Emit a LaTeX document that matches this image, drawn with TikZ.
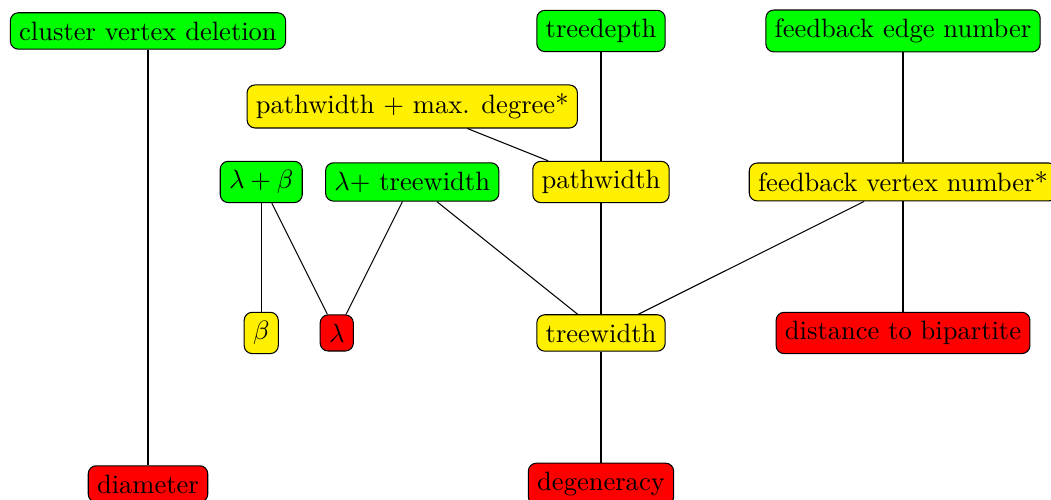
\documentclass[tikz,border=0pt]{standalone}
\definecolor{cgreen}{RGB}{0,255,0}
\definecolor{cyellow}{RGB}{255,240,0}
\definecolor{cred}{RGB}{255,0,0}
\begin{document}
\begin{tikzpicture}[x=2cm,y=2cm,
  par/.style={draw, rounded corners=3pt, inner sep=3.33pt},
  good/.style={par, fill=cgreen},
  mid/.style={par, fill=cyellow},
  bad/.style={par, fill=cred}]
\useasboundingbox (-0.98,0.205) rectangle (5.98,-3.105);
\node[good] (cvd) at (0,0) {cluster vertex deletion};
\node[good] (td) at (3,0) {treedepth};
\node[good] (fen) at (5,0) {feedback edge number};
\node[mid] (pwd) at (1.75,-0.5) {pathwidth + max. degree*};
\node[good] (lb) at (0.75,-1) {$\lambda+\beta$};
\node[good] (ltw) at (1.75,-1) {$\lambda+$ treewidth};
\node[mid] (pw) at (3,-1) {pathwidth};
\node[mid] (fvn) at (5,-1) {feedback vertex number*};
\node[mid] (b) at (0.75,-2) {$\beta$};
\node[bad] (l) at (1.25,-2) {$\lambda$};
\node[mid] (tw) at (3,-2) {treewidth};
\node[bad] (dtb) at (5,-2) {distance to bipartite};
\node[bad] (diam) at (0,-3) {diameter};
\node[bad] (deg) at (3,-3) {degeneracy};
\draw (cvd) -- (diam);
\draw (td) -- (pw);
\draw (pwd) -- (pw);
\draw (fen) -- (fvn);
\draw (lb) -- (b);
\draw (lb) -- (l);
\draw (ltw) -- (l);
\draw (ltw) -- (tw);
\draw (pw) -- (tw);
\draw (fvn) -- (tw);
\draw (fvn) -- (dtb);
\draw (tw) -- (deg);
\end{tikzpicture}
\end{document}
